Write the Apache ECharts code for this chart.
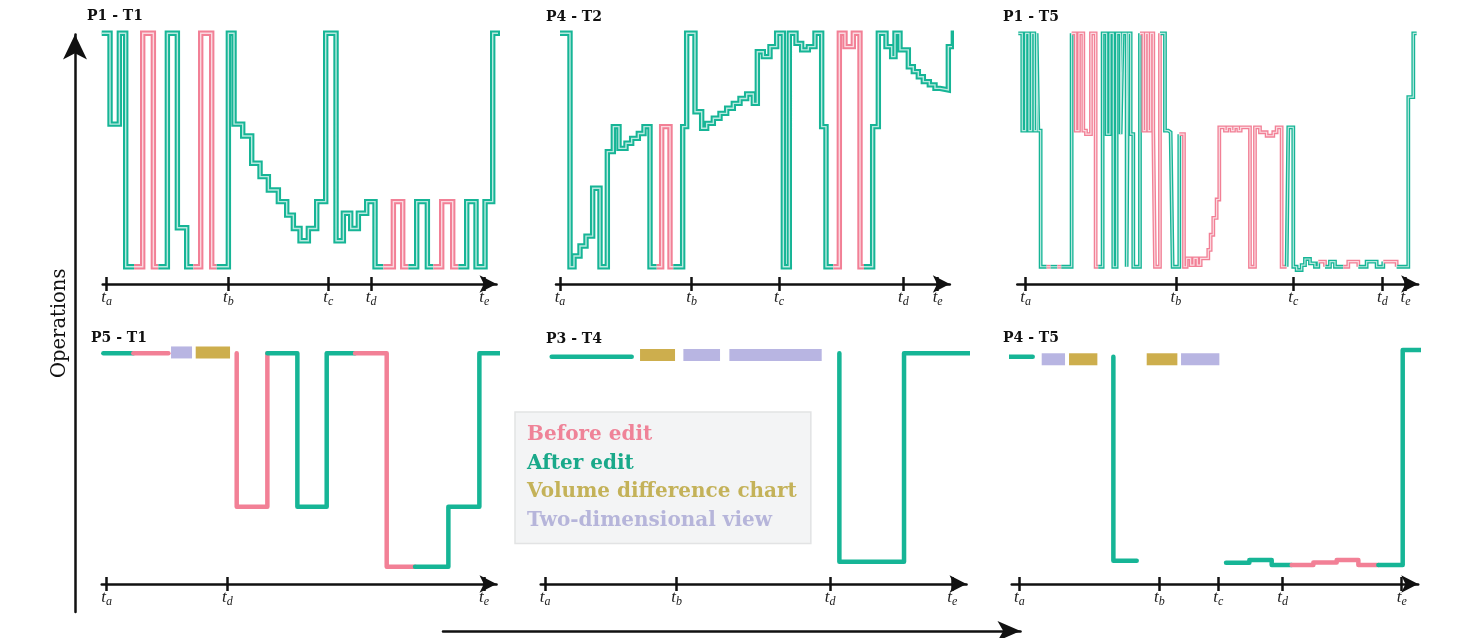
<!DOCTYPE html>
<html>
<head>
<meta charset="utf-8">
<script src="https://cdn.jsdelivr.net/npm/echarts@6.0.0/dist/echarts.min.js"></script>
<style>
  html, body { margin: 0; padding: 0; background: #fff; }
  #chart { width: 1457px; height: 638px; }
</style>
</head>
<body>
<div id="chart"></div>
<script>
// operations over time, 6 sessions: step traces coloured by before/after edit

var tickLetters = ['a', 'b', 'c', 'd', 'e'];

// each point: [time, operations, state]  (A = after edit, B = before edit, null = no trace)
var p1Trace = [[125,100,'A'],[150,61.1,'A'],[178,100,'A'],[197,0,'A'],[222,0,'B'],[248,100,'B'],[280,0,'B'],[295,0,'A'],[322,100,'A'],[352,16.7,'A'],[380,0,'A'],[400,0,'B'],[422,100,'B'],[455,0,'B'],[470,0,'A'],[505,100,'A'],[522,61.1,'A'],[548,56,'A'],[575,44.3,'A'],[600,38.6,'A'],[625,32.9,'A'],[655,27.9,'A'],[680,22.1,'A'],[700,16.4,'A'],[720,11.1,'A'],[745,16.4,'A'],[770,27.9,'A'],[797,100,'A'],[828,11.1,'A'],[850,22.9,'A'],[872,16.4,'A'],[895,22.9,'A'],[920,27.9,'A'],[945,0,'A'],[970,0,'B'],[1000,27.9,'B'],[1028,0,'B'],[1045,0,'A'],[1070,27.9,'A'],[1102,0,'A'],[1120,0,'B'],[1145,27.9,'B'],[1178,0,'B'],[1195,0,'A'],[1220,27.9,'A'],[1248,0,'A'],[1275,27.9,'A'],[1298,100,'A'],[1325,100,'A']];
var p2Trace = [[120,100,'A'],[150,0,'A'],[162,4.6,'A'],[180,8.9,'A'],[198,13.1,'A'],[218,33.6,'A'],[240,0,'A'],[262,49.3,'A'],[280,60,'A'],[297,50.7,'A'],[318,52.9,'A'],[335,55,'A'],[355,57.1,'A'],[372,60,'A'],[390,0,'A'],[410,0,'B'],[425,60,'B'],[450,0,'B'],[460,0,'A'],[488,60,'A'],[500,100,'A'],[525,66.4,'A'],[545,59.3,'A'],[560,61.4,'A'],[580,63.6,'A'],[600,65.7,'A'],[620,67.9,'A'],[640,70,'A'],[660,72.1,'A'],[680,74,'A'],[700,70,'A'],[712,92.1,'A'],[730,90,'A'],[750,94.3,'A'],[770,100,'A'],[790,0,'A'],[808,100,'A'],[828,95.7,'A'],[845,92.9,'A'],[865,94.3,'A'],[885,100,'A'],[905,60,'A'],[918,0,'A'],[940,0,'B'],[958,100,'B'],[975,94.3,'B'],[1000,100,'B'],[1020,0,'B'],[1032,0,'A'],[1058,60,'A'],[1075,100,'A'],[1098,94.3,'A'],[1115,90,'A'],[1125,100,'A'],[1140,92.9,'A'],[1165,85.7,'A'],[1180,83.6,'A'],[1195,81.4,'A'],[1210,79.3,'A'],[1228,77.9,'A'],[1245,76.4,'A'],[1260,75.7,'A'],[1285,94.3,'A'],[1300,100,'A'],[1325,100,'A']];
var p3Trace = [[115,100,'A'],[127,58.3,'A'],[137,100,'A'],[147,58.3,'A'],[155,100,'A'],[163,58.3,'A'],[170,100,'A'],[175,58.3,'A'],[182,0,'A'],[200,0,'B'],[212,0,'A'],[232,0,'B'],[244,0,'A'],[275,100,'B'],[287,58.3,'B'],[297,100,'B'],[310,58.3,'B'],[318,56.8,'B'],[333,100,'B'],[347,0,'B'],[355,0,'A'],[368,100,'A'],[380,56.8,'A'],[390,100,'A'],[400,0,'A'],[410,100,'A'],[422,56.8,'A'],[428,100,'A'],[440,0,'A'],[445,100,'A'],[452,56.8,'A'],[460,0,'A'],[480,100,'B'],[490,58.3,'B'],[497,100,'B'],[505,58.3,'B'],[512,100,'B'],[520,58.3,'B'],[525,0,'B'],[540,100,'A'],[555,58.3,'A'],[565,57.6,'A'],[572,56.8,'A'],[578,0,'A'],[598,56.8,'B'],[612,0,'B'],[620,3.6,'B'],[632,0.7,'B'],[642,3.6,'B'],[652,0.7,'B'],[662,3.6,'B'],[685,7.2,'B'],[692,13.7,'B'],[700,20.9,'B'],[710,28.8,'B'],[718,59.7,'B'],[735,58.3,'B'],[742,59.7,'B'],[755,58.3,'B'],[762,59.7,'B'],[775,58.3,'B'],[782,59.7,'B'],[810,0,'B'],[825,59.7,'B'],[840,57.6,'B'],[860,56.1,'B'],[880,57.6,'B'],[890,59.7,'B'],[905,0,'B'],[920,0,'A'],[925,59.7,'A'],[940,0,'A'],[950,-1.4,'A'],[965,0.7,'A'],[975,3.3,'A'],[990,1.4,'A'],[1005,0,'A'],[1015,2.2,'B'],[1035,0,'A'],[1050,2.2,'A'],[1065,0,'A'],[1090,0,'B'],[1105,2.2,'B'],[1135,0,'A'],[1160,2.2,'A'],[1190,0,'A'],[1210,2.2,'B'],[1250,0,'A'],[1285,72.7,'A'],[1300,100,'A'],[1310,100,'A']];
var p4Trace = [[130,100,'A'],[220,100,'B'],[325,100,null],[530,100,'B'],[530,28.1,'B'],[622,100,'A'],[712,28.1,'A'],[800,100,'A'],[885,100,'B'],[980,0,'B'],[1065,0,'A'],[1165,28.1,'A'],[1258,100,'A'],[1350,100,'A']];
var p5Trace = [[95,98.4,'A'],[335,98.4,null],[958,100,'A'],[958,2.3,'A'],[1152,100,'A'],[1355,100,'A']];
var p6Trace = [[85,98.4,'A'],[158,98.4,null],[400,98.4,'A'],[400,2.8,'A'],[470,2.8,null],[738,1.9,'A'],[808,3.1,'A'],[875,0.8,'A'],[935,0.8,'B'],[1000,2.0,'B'],[1070,3.1,'B'],[1135,0.8,'B'],[1195,0.8,'A'],[1268,101.6,'A'],[1335,101.6,'A']];

// view blocks: [start, end, operations level, kind]
var p4Views = [[333,396,100.4,'2d'],[407,510,100.4,'vol']];
var p5Views = [[360,465,99.2,'vol'],[490,600,99.2,'2d'],[628,905,99.2,'2d']];
var p6Views = [[185,255,97.2,'2d'],[267,352,97.2,'vol'],[500,592,97.2,'vol'],[603,718,97.2,'2d']];

var p1Ticks = [140,505,805,933,1273];
var p2Ticks = [120,515,777,1150,1253];
var p3Ticks = [137,588,940,1207,1277];
var p4Ticks = [140,502,1272];
var p5Ticks = [75,470,930,1297];
var p6Ticks = [118,538,715,908,1265];
var p4Names = ['a','d','e'];
var p5Names = ['a','b','d','e'];

var panelTitles = ['P1 - T1','P4 - T2','P1 - T5','P5 - T1','P3 - T4','P4 - T5'];

var TEAL = '#16b596', PINK = '#f28096', GOLD = '#cdae4d', LAV = '#b8b5e2';
var ARROW_HALF = 8.5; // half the arrow head length, px

var panels = [
  { trace: p1Trace, views: [], ticks: p1Ticks, names: tickLetters, left: 102.7, top: 33.3, height: 250.7, xmin: 128, tip: 1335, ymin: -7.4, hollow: true, w: 5.4, tx: 82, ty: 4 },
  { trace: p2Trace, views: [], ticks: p2Ticks, names: tickLetters, left: 556, top: 33.3, height: 250.7, xmin: 108, tip: 1315, ymin: -7.4, hollow: true, w: 5.4, tx: 541, ty: 5 },
  { trace: p3Trace, views: [], ticks: p3Ticks, names: tickLetters, left: 1017.3, top: 33.3, height: 250.7, xmin: 112, tip: 1340, ymin: -7.4, hollow: true, w: 3.8, tx: 998, ty: 5 },
  { trace: p4Trace, views: p4Views, ticks: p4Ticks, names: p4Names, left: 101.7, top: 353.3, height: 230.7, xmin: 125, tip: 1335, ymin: -8.1, hollow: false, w: 4.5, tx: 86, ty: 326 },
  { trace: p5Trace, views: p5Views, ticks: p5Ticks, names: p5Names, left: 540.7, top: 353.3, height: 230.7, xmin: 62, tip: 1365, ymin: -8.1, hollow: false, w: 4.5, tx: 541, ty: 327 },
  { trace: p6Trace, views: p6Views, ticks: p6Ticks, names: tickLetters, left: 1011.7, top: 353.3, height: 230.7, xmin: 95, tip: 1340, ymin: -8.1, hollow: false, w: 4.5, tx: 998, ty: 326 }
];

function splitRuns(points) {
  var out = [];
  var cur = null;
  points.forEach(function (p) {
    if (!cur || cur.c !== p[2]) {
      if (cur) { cur.data.push([p[0], p[1]]); out.push(cur); }
      cur = { c: p[2], data: [[p[0], p[1]]] };
    } else {
      cur.data.push([p[0], p[1]]);
    }
  });
  if (cur) out.push(cur);
  return out.filter(function (r) { return r.c; });
}

var dom = document.getElementById('chart');
var myChart = echarts.init(dom);

var grids = [], xAxes = [], yAxes = [], series = [], titles = [];
var axisColor = '#111';
var labelRich = {
  t: { fontFamily: 'Liberation Serif', fontStyle: 'italic', fontSize: 17, color: '#222', lineHeight: 20 },
  s: { fontFamily: 'Liberation Serif', fontStyle: 'italic', fontSize: 12, color: '#222', lineHeight: 12, padding: [7, 0, 0, 0] }
};

panels.forEach(function (p, i) {
  var xmax = p.tip - 3 * ARROW_HALF;
  var width = (xmax - p.xmin) / 3;
  grids.push({ left: p.left, top: p.top, width: width, height: p.height });
  xAxes.push({
    gridIndex: i, type: 'value', min: p.xmin, max: xmax, position: 'bottom',
    axisLine: { onZero: false, symbol: ['none', 'arrow'], symbolSize: [13, 2 * ARROW_HALF], lineStyle: { color: axisColor, width: 2.5 } },
    axisTick: { customValues: p.ticks, length: 7, lineStyle: { color: axisColor, width: 2.5 } },
    axisLabel: {
      customValues: p.ticks, margin: 4, rich: labelRich,
      formatter: function (v) { return '{t|t}{s|' + p.names[p.ticks.indexOf(v)] + '}'; }
    },
    splitLine: { show: false }
  });
  xAxes.push({
    gridIndex: i, type: 'value', min: p.xmin, max: xmax, position: 'bottom',
    axisLine: { show: false, onZero: false },
    axisTick: { customValues: p.ticks, inside: true, length: 7, lineStyle: { color: axisColor, width: 2.5 } },
    axisLabel: { show: false },
    splitLine: { show: false }
  });
  yAxes.push({ gridIndex: i, type: 'value', min: p.ymin, max: 100, show: false });

  titles.push({
    text: panelTitles[i],
    left: p.tx, top: p.ty,
    textStyle: { fontFamily: 'DejaVu Serif', fontWeight: 'bold', fontSize: 14, color: '#111' }
  });

  splitRuns(p.trace).forEach(function (r) {
    var name = r.c === 'B' ? 'Before edit' : 'After edit';
    series.push({
      type: 'line', name: name, xAxisIndex: 2 * i, yAxisIndex: i,
      data: r.data, step: 'end', showSymbol: false, symbol: 'none', clip: false,
      lineStyle: { color: r.c === 'B' ? PINK : TEAL, width: p.w, cap: p.hollow ? 'butt' : 'round', join: p.hollow ? 'miter' : 'round' },
      z: 2, silent: true
    });
    if (p.hollow) {
      series.push({
        type: 'line', name: name, xAxisIndex: 2 * i, yAxisIndex: i,
        data: r.data, step: 'end', showSymbol: false, symbol: 'none', clip: false,
        lineStyle: { color: 'rgba(255,255,255,0.7)', width: p.w > 4 ? 1.4 : 1.2, join: 'miter' },
        z: 3, silent: true
      });
    }
  });

  [['vol', 'Volume difference chart', GOLD], ['2d', 'Two-dimensional view', LAV]].forEach(function (k) {
    var rows = p.views.filter(function (v) { return v[3] === k[0]; }).map(function (v) { return [v[0], v[1], v[2]]; });
    if (!rows.length) return;
    series.push({
      type: 'custom', name: k[1], xAxisIndex: 2 * i, yAxisIndex: i,
      data: rows, encode: { x: [0, 1], y: 2 }, clip: false, silent: true, z: 2,
      renderItem: function (params, api) {
        var a = api.coord([api.value(0), api.value(2)]);
        var b = api.coord([api.value(1), api.value(2)]);
        return { type: 'rect', shape: { x: a[0], y: a[1] - 6, width: b[0] - a[0], height: 12 }, style: { fill: k[2] } };
      }
    });
  });
});

// big "Operations" arrow on the left and the time arrow under the chart
grids.push({ left: 75, top: 34.5, width: 10, height: 577.5 });
xAxes.push({ gridIndex: 6, type: 'value', show: false, min: 0, max: 1 });
yAxes.push({
  gridIndex: 6, type: 'value', min: 0, max: 1, position: 'left',
  axisLine: { show: true, onZero: false, symbol: ['none', 'arrow'], symbolSize: [18, 25], lineStyle: { color: axisColor, width: 2.5 } },
  axisTick: { show: false }, axisLabel: { show: false }, splitLine: { show: false },
  name: 'Operations', nameLocation: 'middle', nameGap: 5, nameRotate: 90,
  nameTextStyle: { fontFamily: 'DejaVu Serif', fontSize: 19.5, color: '#111' }
});
grids.push({ left: 443, top: 631, width: 577.5, height: 5 });
xAxes.push({
  gridIndex: 7, type: 'value', min: 0, max: 1, position: 'top',
  axisLine: { show: true, onZero: false, symbol: ['none', 'arrow'], symbolSize: [15, 23], lineStyle: { color: axisColor, width: 2.5 } },
  axisTick: { show: false }, axisLabel: { show: false }, splitLine: { show: false }
});
yAxes.push({ gridIndex: 7, type: 'value', show: false, min: 0, max: 1 });

var option = {
  animation: false,
  backgroundColor: '#fff',
  title: titles,
  legend: {
    orient: 'vertical', left: 515, top: 412,
    selectedMode: false,
    backgroundColor: '#f3f4f5', borderColor: '#e2e3e4', borderWidth: 1.5,
    padding: [12, 14, 12, 7],
    icon: 'rect', itemWidth: 0, itemHeight: 0, itemGap: 6.5,
    textStyle: { fontFamily: 'DejaVu Serif', fontWeight: 'bold', fontSize: 20, lineHeight: 22 },
    data: [
      { name: 'Before edit', textStyle: { color: '#ef8398' } },
      { name: 'After edit', textStyle: { color: '#19a98a' } },
      { name: 'Volume difference chart', textStyle: { color: '#c4b259' } },
      { name: 'Two-dimensional view', textStyle: { color: '#b6b5da' } }
    ]
  },
  grid: grids,
  xAxis: xAxes,
  yAxis: yAxes,
  series: series
};

if (option && typeof option === 'object') {
  myChart.setOption(option);
}
</script>
</body>
</html>
